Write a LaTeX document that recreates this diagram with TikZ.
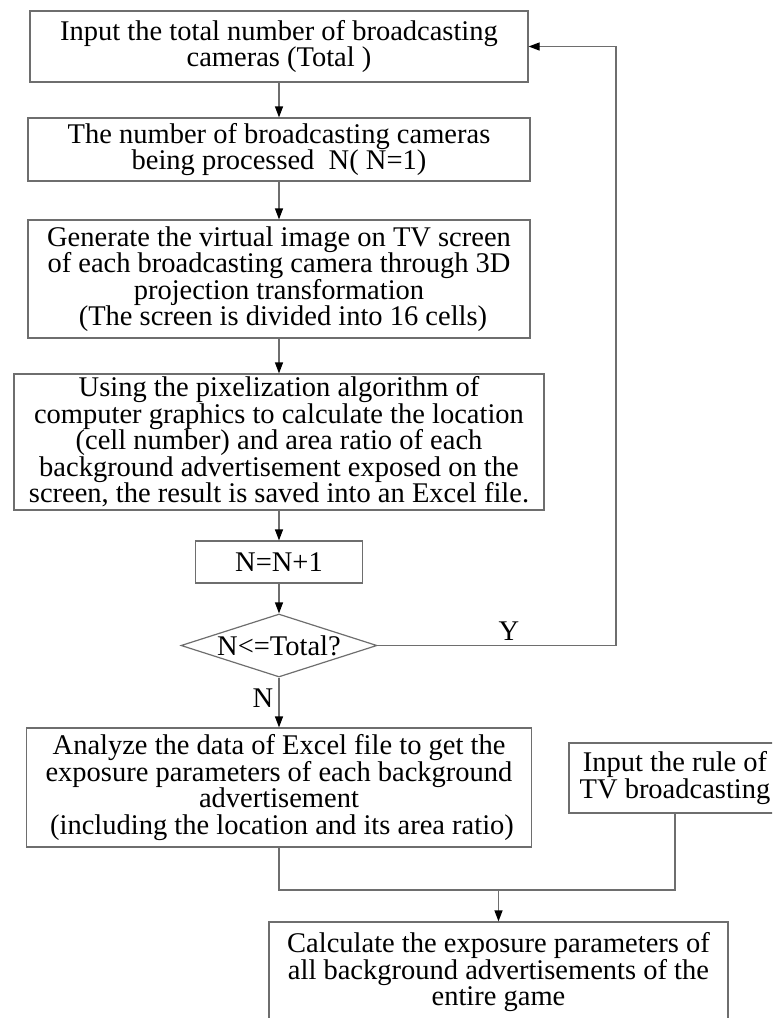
\documentclass[tikz,border=0pt]{standalone}
\usepackage{fontspec}
\setmainfont{Liberation Serif}
\usetikzlibrary{arrows.meta,shapes.geometric}
\definecolor{linegray}{RGB}{110,110,110}
\begin{document}
\begin{tikzpicture}[x=1pt,y=-1pt,
  box/.style={draw=linegray, line width=1.2pt, inner sep=0pt, align=center,
    font=\fontsize{28.5}{26.5}\selectfont, text=black},
  conn/.style={draw=linegray, line width=1.2pt},
  arr/.style={conn, -{Triangle[length=11pt,width=8pt,color=black]}},
  lbl/.style={font=\fontsize{28.5}{26.5}\selectfont, inner sep=0pt, text=black}]
\useasboundingbox (0,0) rectangle (772,1018);
\clip (0,0) rectangle (772,1018);

\node[box, minimum width=498pt, minimum height=71pt] (b1) at (279,46.5)
  {Input the total number of broadcasting\\cameras (Total )};
\node[box, minimum width=502pt, minimum height=63pt] (b2) at (279,149.5)
  {The number of broadcasting cameras\\being processed\ \ N( N=1)};
\node[box, minimum width=502pt, minimum height=118pt] (b3) at (279,279)
  {Generate the virtual image on TV screen\\of each broadcasting camera through 3D\\projection transformation\\\hspace{8pt}(The screen is divided into 16 cells)};
\node[box, minimum width=530pt, minimum height=136pt] (b4) at (279,442)
  {Using the pixelization algorithm of\\computer graphics to calculate the location\\(cell number) and area ratio of each\\background advertisement exposed on the\\screen, the result is saved into an Excel file.};
\node[box, minimum width=167pt, minimum height=42pt] (b5) at (279,562) {N=N+1};
\node[box, diamond, aspect=3.11, minimum width=196pt, minimum height=63pt] (dia) at (279,645.5) {N<=Total?};
\node[box, minimum width=505pt, minimum height=119pt] (b6) at (279,787.5)
  {Analyze the data of Excel file to get the\\exposure parameters of each background\\advertisement\\\hspace{6pt}(including the location and its area ratio)};
\node[box, minimum width=212pt, minimum height=70pt] (b7) at (675,778)
  {Input the rule of\\TV broadcasting};
\node[box, minimum width=459pt, minimum height=101pt] (b8) at (498.5,972.5)
  {Calculate the exposure parameters of\\all background advertisements of the\\entire game};

\node[lbl] (ylab) at (509,631) {Y};
\node[lbl] (nlab) at (263,698) {N};

\coordinate (lb) at (616,645.5);
\coordinate (lt) at (616,46.5);
\coordinate (j1) at (279,890);
\coordinate (j2) at (675,890);
\coordinate (j3) at (498.5,890);

\draw[arr] (b1) -- (b2);
\draw[arr] (b2) -- (b3);
\draw[arr] (b3) -- (b4);
\draw[arr] (b4) -- (b5);
\draw[arr] (b5) -- (dia);
\draw[arr] (dia) -- (b6);
\draw[arr] (dia.east) -- (lb) -- (lt) -- (b1.east);
\draw[conn] (b6.south) -- (j1) -- (j2) -- (b7.south);
\draw[arr] (j3) -- (b8.north);
\end{tikzpicture}
\end{document}
